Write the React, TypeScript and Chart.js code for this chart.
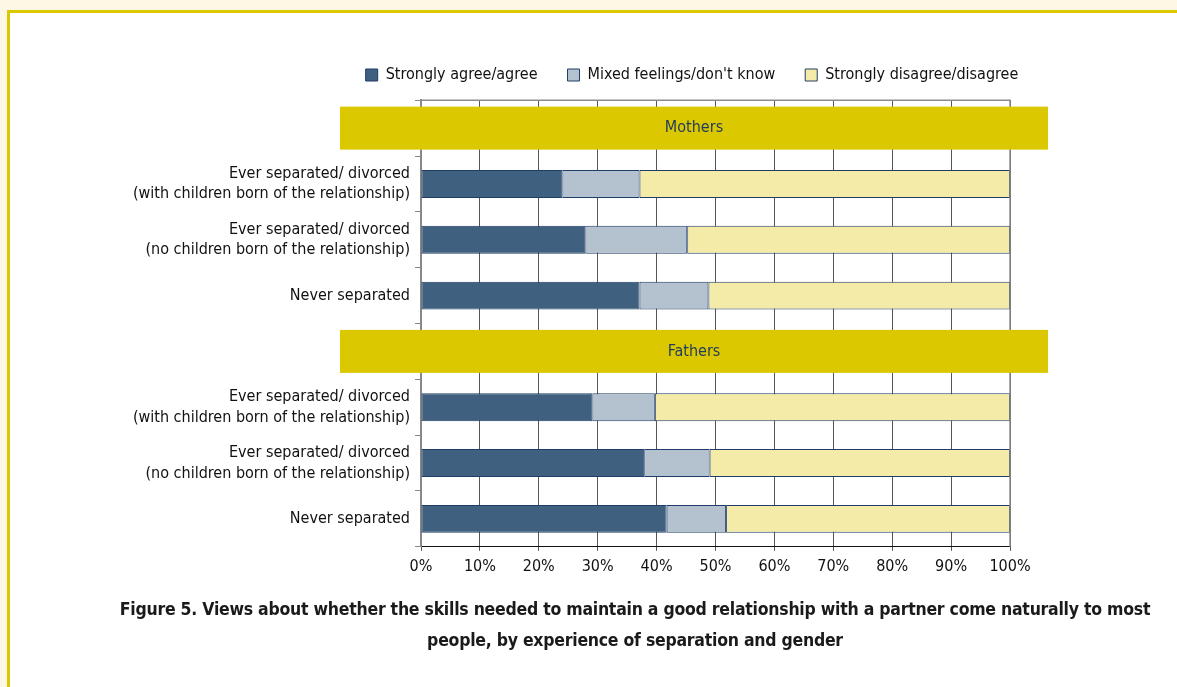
import React, { useEffect, useRef } from 'react';
import { Chart, registerables } from 'chart.js';

Chart.register(...registerables);

const FONT = "'Liberation Sans Narrow', 'DejaVu Sans Condensed', 'Noto Sans', sans-serif";

const groupNames = ['Mothers', 'Fathers'];
const rowLabels: (string | string[])[] = [
  ['Ever separated/ divorced', '(with children born of the relationship)'],
  ['Ever separated/ divorced', '(no children born of the relationship)'],
  'Never separated',
];
const seriesNames = ['Strongly agree/agree', "Mixed feelings/don't know", 'Strongly disagree/disagree'];
const seriesColors = ['#40607f', '#b4c1ce', '#f5eba8'];

const mothersAgree = [24.0, 27.9, 37.1];
const mothersMixed = [13.1, 17.3, 11.7];
const mothersDisagree = [62.9, 54.8, 51.2];
const fathersAgree = [29.1, 37.9, 41.7];
const fathersMixed = [10.6, 11.1, 10.1];
const fathersDisagree = [60.3, 51.0, 48.2];

const xTickValues = [0, 10, 20, 30, 40, 50, 60, 70, 80, 90, 100];
const titleLines = [
  'Figure 5. Views about whether the skills needed to maintain a good relationship with a partner come naturally to most',
  'people, by experience of separation and gender',
];

const labels = [groupNames[0], ...rowLabels, groupNames[1], ...rowLabels];
const bandIndices = groupNames.map((_, g) => g * (rowLabels.length + 1));
const withBands = (m: number[], f: number[]) => [null, ...m, null, ...f];

const bandPlugin = {
  id: 'bands',
  afterDatasetsDraw(chart: any) {
    const { ctx, chartArea, scales } = chart;
    const y = scales.y;
    const step = y.getPixelForValue(1) - y.getPixelForValue(0);
    ctx.save();
    ctx.strokeStyle = '#8c8c8c';
    ctx.lineWidth = 1.5;
    ctx.beginPath();
    ctx.moveTo(chartArea.left, chartArea.top);
    ctx.lineTo(chartArea.right, chartArea.top);
    ctx.lineTo(chartArea.right, chartArea.bottom);
    ctx.stroke();
    const left = chartArea.left - 81;
    const right = chartArea.right + 38;
    bandIndices.forEach((idx, g) => {
      const cy = y.getPixelForValue(idx);
      const h = step * 0.77;
      ctx.fillStyle = '#dcc800';
      ctx.fillRect(left, cy - h / 2, right - left, h);
      ctx.fillStyle = '#1f3a5f';
      ctx.font = `16px ${FONT}`;
      ctx.textAlign = 'center';
      ctx.textBaseline = 'middle';
      ctx.fillText(groupNames[g], (left + right) / 2, cy);
    });
    ctx.restore();
  },
};

export default function App() {
  const ref = useRef<HTMLCanvasElement>(null);
  useEffect(() => {
    if (!ref.current) return;
    const chart = new Chart(ref.current, {
      type: 'bar',
      data: {
        labels,
        datasets: [
          { label: seriesNames[0], data: withBands(mothersAgree, fathersAgree), backgroundColor: seriesColors[0] },
          { label: seriesNames[1], data: withBands(mothersMixed, fathersMixed), backgroundColor: seriesColors[1] },
          { label: seriesNames[2], data: withBands(mothersDisagree, fathersDisagree), backgroundColor: seriesColors[2] },
        ].map((d) => ({
          ...d,
          borderColor: '#1f3d66',
          borderWidth: 1,
          borderSkipped: false,
          categoryPercentage: 0.5,
          barPercentage: 1,
        })) as any,
      },
      options: {
        indexAxis: 'y',
        responsive: false,
        animation: false,
        layout: { padding: { left: 0, right: 0, top: 37, bottom: 18 } },
        scales: {
          x: {
            stacked: true,
            min: 0,
            max: 100,
            afterBuildTicks: (s: any) => {
              s.ticks = xTickValues.map((v) => ({ value: v }));
            },
            ticks: {
              color: '#111',
              font: { family: FONT, size: 16 },
              padding: 6,
              callback: (v: any) => `${v}%`,
            },
            grid: { color: '#555', lineWidth: 1, tickLength: 4 },
            border: { color: '#111', width: 1 },
          },
          y: {
            stacked: true,
            afterFit: (s: any) => {
              s.width = 421;
            },
            ticks: {
              autoSkip: false,
              color: '#111',
              padding: 5,
              font: { family: FONT, size: 16, lineHeight: 1.3 },
              callback: function (this: any, value: any, index: number) {
                return bandIndices.includes(index) ? '' : this.getLabelForValue(value);
              },
            },
            grid: { offset: true, drawOnChartArea: false, tickLength: 6, color: '#888' },
            border: { color: '#888', width: 2 },
          },
          yRight: {
            type: 'category',
            position: 'right',
            afterFit: (s: any) => {
              s.width = 374;
            },
            ticks: { display: false },
            grid: { display: false },
            border: { display: false },
          },
        },
        plugins: {
          legend: {
            position: 'top',
            labels: {
              boxWidth: 12,
              boxHeight: 12,
              padding: 30,
              color: '#111',
              font: { family: FONT, size: 16 },
            },
          },
          subtitle: { display: true, text: '', weight: 500, padding: 0, font: { size: 6 } } as any,
          tooltip: { enabled: false },
        },
      } as any,
      plugins: [bandPlugin],
    });
    return () => chart.destroy();
  }, []);

  return (
    <div style={{ position: 'fixed', inset: 0, background: '#fcf8e5', overflow: 'hidden' }}>
      <div
        style={{
          position: 'absolute',
          left: 7,
          top: 10,
          right: -20,
          bottom: -20,
          background: '#ffffff',
          borderLeft: '3px solid #dcc800',
          borderTop: '3px solid #dcc800',
        }}
      />
      <canvas ref={ref} width={1384} height={600} style={{ position: 'absolute', left: 0, top: 0 }} />
      <div
        style={{
          position: 'absolute',
          left: 0,
          top: 594,
          width: 1270,
          textAlign: 'center',
          fontFamily: FONT,
          fontWeight: 'bold',
          fontSize: 17.5,
          letterSpacing: '-0.25px',
          lineHeight: '31px',
          color: '#1a1a1a',
        }}
      >
        {titleLines.map((t, i) => (
          <div key={i}>{t}</div>
        ))}
      </div>
    </div>
  );
}
